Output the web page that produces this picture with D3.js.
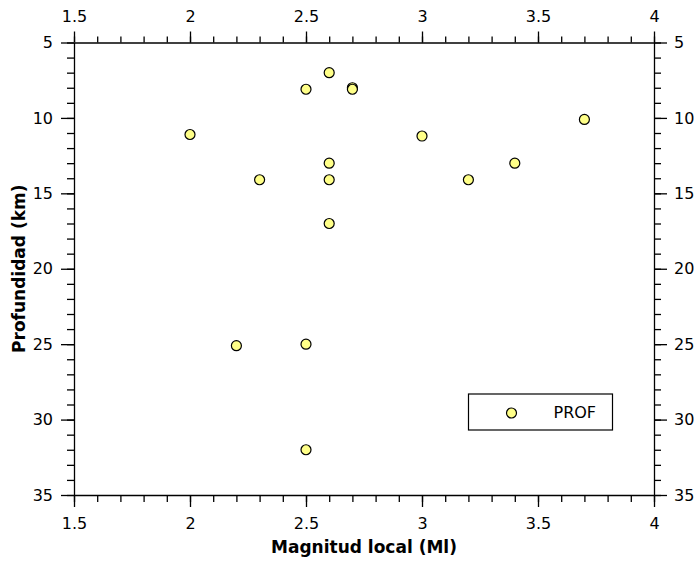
<!DOCTYPE html>
<html>
<head>
<meta charset="utf-8">
<style>
body { margin: 0; background: #fff; }
svg { font-family: "DejaVu Sans", sans-serif; }
.axis path, .axis line { stroke: #000; stroke-width: 1.3; }
.axis text { font-size: 16px; fill: #000; }
</style>
</head>
<body>
<svg width="700" height="561"></svg>
<script src="https://d3js.org/d3.v7.min.js"></script>
<script>
// magnitude (Ml) vs depth (km)
var magnitud = [2.0, 2.2, 2.3, 2.5, 2.5, 2.5, 2.6, 2.6, 2.6, 2.6, 2.7, 2.7, 3.0, 3.2, 3.4, 3.7]
var profundidad = [11.1, 25.1, 14.1, 8.1, 25.0, 32.0, 7.0, 13.0, 14.1, 17.0, 8.0, 8.1, 11.2, 14.1, 13.0, 10.1]
var xTicks = [1.5, 2, 2.5, 3, 3.5, 4]
var yTicks = [5, 10, 15, 20, 25, 30, 35]
var serieName = "PROF"

var svg = d3.select('svg')
var m = {top: 42.5, right: 46, bottom: 66, left: 74}
var W = 700 - m.left - m.right, H = 561 - m.top - m.bottom
var g = svg.append('g').attr('transform', 'translate(' + m.left + ',' + m.top + ')')

var x = d3.scaleLinear().domain([1.5, 4]).range([0, W])
var y = d3.scaleLinear().domain([5, 35]).range([0, H])

var xMinor = d3.range(1.5, 4.001, 0.1), yMinor = d3.range(5, 35.001, 1)

function fmt(d) { return d3.format('')(+d.toFixed(2)) }

// minor ticks first, then major axes on top
g.append('g').attr('class', 'axis').attr('transform', 'translate(0,' + H + ')')
	.call(d3.axisBottom(x).tickValues(xMinor).tickSize(7).tickFormat('')).select('.domain').remove()
g.append('g').attr('class', 'axis')
	.call(d3.axisTop(x).tickValues(xMinor).tickSize(6).tickFormat('')).select('.domain').remove()
g.append('g').attr('class', 'axis')
	.call(d3.axisLeft(y).tickValues(yMinor).tickSize(7).tickFormat('')).select('.domain').remove()
g.append('g').attr('class', 'axis').attr('transform', 'translate(' + W + ',0)')
	.call(d3.axisRight(y).tickValues(yMinor).tickSize(7).tickFormat('')).select('.domain').remove()

g.append('g').attr('class', 'axis').attr('transform', 'translate(0,' + H + ')')
	.call(d3.axisBottom(x).tickValues(xTicks).tickSize(12).tickSizeOuter(0).tickPadding(11).tickFormat(fmt))
g.append('g').attr('class', 'axis')
	.call(d3.axisTop(x).tickValues(xTicks).tickSize(11).tickSizeOuter(0).tickPadding(10).tickFormat(fmt))
g.append('g').attr('class', 'axis')
	.call(d3.axisLeft(y).tickValues(yTicks).tickSize(13).tickSizeOuter(0).tickPadding(8))
g.append('g').attr('class', 'axis').attr('transform', 'translate(' + W + ',0)')
	.call(d3.axisRight(y).tickValues(yTicks).tickSize(13).tickSizeOuter(0).tickPadding(7))

svg.selectAll('.axis .tick text').attr('font-family', '"DejaVu Sans", sans-serif')

// points
g.selectAll('circle.pt').data(magnitud).enter().append('circle').attr('class', 'pt')
	.attr('cx', function(d) { return x(d) })
	.attr('cy', function(d, i) { return y(profundidad[i]) })
	.attr('r', 5)
	.attr('fill', '#ffff88').attr('stroke', '#000').attr('stroke-width', 1.2)

// axis titles
svg.append('text').attr('x', m.left + W / 2).attr('y', 553).attr('text-anchor', 'middle')
	.attr('font-size', 17).attr('font-weight', 'bold').text('Magnitud local (Ml)')
svg.append('text').attr('transform', 'translate(25,' + (m.top + H / 2) + ') rotate(-90)')
	.attr('text-anchor', 'middle').attr('font-size', 17).attr('font-weight', 'bold').text('Profundidad (km)')

// legend
var lg = svg.append('g').attr('transform', 'translate(468.5,394)')
lg.append('rect').attr('width', 144).attr('height', 36).attr('fill', '#fff').attr('stroke', '#000').attr('stroke-width', 1.2)
lg.append('circle').attr('cx', 43).attr('cy', 19).attr('r', 5).attr('fill', '#ffff88').attr('stroke', '#000').attr('stroke-width', 1.2)
lg.append('text').attr('x', 85).attr('y', 24).attr('font-size', 16).text(serieName)
</script>
</body>
</html>
